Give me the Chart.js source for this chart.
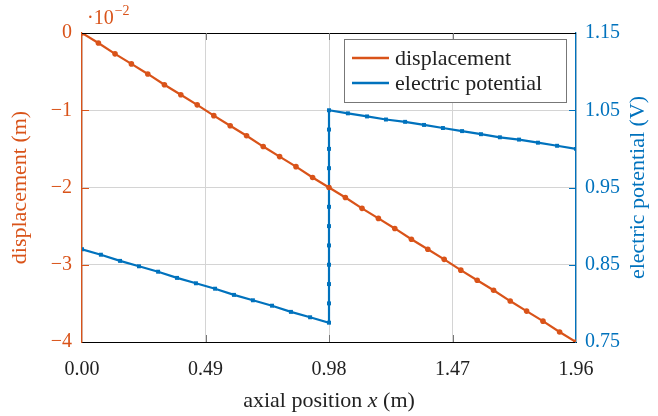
<!DOCTYPE html>
<html>
<head>
<meta charset="utf-8">
<script src="https://cdn.jsdelivr.net/npm/chart.js@4.4.0/dist/chart.umd.min.js"></script>
<style>
  html, body { margin: 0; padding: 0; background: #fff; }
  canvas { display: block; }
</style>
</head>
<body>
<canvas id="myChart" width="658" height="416"></canvas>
<script>
// displacement, in units of 1e-2 m
const dispX = [0, 0.065, 0.131, 0.196, 0.261, 0.327, 0.392, 0.457, 0.523, 0.588, 0.653, 0.719, 0.784, 0.849, 0.915, 0.98,
    1.045, 1.111, 1.176, 1.241, 1.307, 1.372, 1.437, 1.503, 1.568, 1.633, 1.699, 1.764, 1.829, 1.895, 1.96];
const dispY = [0, -0.13, -0.27, -0.40, -0.53, -0.67, -0.80, -0.93, -1.07, -1.20, -1.33, -1.47, -1.60, -1.73, -1.87, -2.00,
    -2.13, -2.27, -2.40, -2.53, -2.67, -2.80, -2.93, -3.07, -3.20, -3.33, -3.47, -3.60, -3.73, -3.87, -4.00];

// electric potential (V)
const potX = [0, 0.075, 0.151, 0.226, 0.302, 0.377, 0.452, 0.528, 0.603, 0.678, 0.754, 0.829, 0.905, 0.98,
    0.98, 0.98, 0.98, 0.98, 0.98, 0.98, 0.98, 0.98, 0.98, 0.98, 0.98,
    1.055, 1.131, 1.206, 1.282, 1.357, 1.432, 1.508, 1.583, 1.658, 1.734, 1.809, 1.885, 1.96];
const potY = [0.870, 0.863, 0.855, 0.848, 0.841, 0.833, 0.826, 0.819, 0.811, 0.804, 0.797, 0.789, 0.782, 0.775,
    0.800, 0.825, 0.850, 0.875, 0.900, 0.925, 0.950, 0.975, 1.000, 1.025, 1.050,
    1.046, 1.042, 1.038, 1.035, 1.031, 1.027, 1.023, 1.019, 1.015, 1.012, 1.008, 1.004, 1.000];

const xTicks = [0, 0.49, 0.98, 1.47, 1.96];
const yTicks = [0, -1, -2, -3, -4];
const y2Ticks = [0.75, 0.85, 0.95, 1.05, 1.15];

const ORANGE = '#D95319';
const BLUE = '#0072BD';
const FONT = '"Liberation Serif", "DejaVu Serif", serif';

const dispData = dispX.map((x, i) => ({ x: x, y: dispY[i] }));
const potData = potX.map((x, i) => ({ x: x, y: potY[i] }));

const overlay = {
    id: 'overlay',
    afterDraw(chart) {
        const ctx = chart.ctx;
        const a = chart.chartArea;
        const sx = chart.scales.x, sy = chart.scales.y, sy2 = chart.scales.y2;
        ctx.save();

        // top frame
        ctx.strokeStyle = '#000';
        ctx.lineWidth = 1;
        ctx.beginPath();
        ctx.moveTo(a.left, a.top + 0.5);
        ctx.lineTo(a.right, a.top + 0.5);
        ctx.stroke();

        // small inward tick marks
        ctx.lineWidth = 1;
        ctx.strokeStyle = ORANGE;
        yTicks.slice(1, -1).forEach(v => {
            const p = Math.round(sy.getPixelForValue(v)) + 0.5;
            ctx.beginPath(); ctx.moveTo(a.left, p); ctx.lineTo(a.left + 7, p); ctx.stroke();
        });
        ctx.strokeStyle = BLUE;
        y2Ticks.slice(1, -1).forEach(v => {
            const p = Math.round(sy2.getPixelForValue(v)) + 0.5;
            ctx.beginPath(); ctx.moveTo(a.right, p); ctx.lineTo(a.right - 7, p); ctx.stroke();
        });
        ctx.strokeStyle = '#777';
        xTicks.slice(1, -1).forEach(v => {
            const p = Math.round(sx.getPixelForValue(v)) + 0.5;
            ctx.beginPath(); ctx.moveTo(p, a.bottom); ctx.lineTo(p, a.bottom - 7); ctx.stroke();
            ctx.beginPath(); ctx.moveTo(p, a.top); ctx.lineTo(p, a.top + 7); ctx.stroke();
        });

        // exponent label
        ctx.fillStyle = ORANGE;
        ctx.textBaseline = 'alphabetic';
        ctx.textAlign = 'left';
        ctx.font = '20px ' + FONT;
        ctx.fillText('·10', 87, 24);
        const w = ctx.measureText('·10').width;
        ctx.font = '14px ' + FONT;
        ctx.fillText('−2', 87 + w + 1, 15);

        // axis titles
        ctx.font = '22px ' + FONT;
        ctx.textAlign = 'center';
        ctx.textBaseline = 'middle';
        ctx.fillStyle = ORANGE;
        ctx.save();
        ctx.translate(20, (a.top + a.bottom) / 2);
        ctx.rotate(-Math.PI / 2);
        ctx.fillText('displacement (m)', 0, 0);
        ctx.restore();

        ctx.fillStyle = BLUE;
        ctx.save();
        ctx.translate(638, (a.top + a.bottom) / 2);
        ctx.rotate(-Math.PI / 2);
        ctx.fillText('electric potential (V)', 0, 0);
        ctx.restore();

        // x title with italic x
        ctx.fillStyle = '#222';
        const p1 = 'axial position ', p2 = 'x', p3 = ' (m)';
        ctx.font = '22px ' + FONT;
        const w1 = ctx.measureText(p1).width, w3 = ctx.measureText(p3).width;
        ctx.font = 'italic 22px ' + FONT;
        const w2 = ctx.measureText(p2).width;
        let tx = (a.left + a.right) / 2 - (w1 + w2 + w3) / 2;
        ctx.textAlign = 'left';
        ctx.font = '22px ' + FONT;
        ctx.fillText(p1, tx, 401);
        ctx.font = 'italic 22px ' + FONT;
        ctx.fillText(p2, tx + w1, 401);
        ctx.font = '22px ' + FONT;
        ctx.fillText(p3, tx + w1 + w2, 401);

        // legend
        const lx = 344.5, ly = 39.5, lw = 222, lh = 63;
        ctx.fillStyle = '#fff';
        ctx.fillRect(lx, ly, lw, lh);
        ctx.strokeStyle = '#777';
        ctx.lineWidth = 1;
        ctx.strokeRect(lx, ly, lw, lh);
        const items = [['displacement', ORANGE, 58], ['electric potential', BLUE, 83]];
        items.forEach(it => {
            ctx.strokeStyle = it[1];
            ctx.lineWidth = 2.4;
            ctx.beginPath(); ctx.moveTo(352, it[2]); ctx.lineTo(389, it[2]); ctx.stroke();
            ctx.fillStyle = '#222';
            ctx.font = '22px ' + FONT;
            ctx.textBaseline = 'middle';
            ctx.fillText(it[0], 395, it[2] + 1);
        });

        ctx.restore();
    }
};

const ctx = document.getElementById('myChart').getContext('2d');
const myChart = new Chart(ctx, {
    type: 'line',
    data: {
        datasets: [
            {
                label: 'displacement',
                data: dispData,
                borderColor: ORANGE,
                backgroundColor: ORANGE,
                borderWidth: 2.2,
                pointRadius: 2.8,
                pointBorderWidth: 0,
                pointHoverRadius: 0,
                yAxisID: 'y',
                tension: 0,
            },
            {
                label: 'electric potential',
                data: potData,
                borderColor: BLUE,
                backgroundColor: BLUE,
                borderWidth: 2.2,
                pointStyle: 'rect',
                pointRadius: 2.8,
                pointBorderWidth: 0,
                pointHoverRadius: 0,
                yAxisID: 'y2',
                tension: 0,
            },
        ]
    },
    options: {
        responsive: false,
        animation: false,
        events: [],
        layout: { padding: { top: 33, left: 0, right: 0, bottom: 0 } },
        plugins: {
            legend: { display: false },
            tooltip: { enabled: false },
        },
        scales: {
            x: {
                type: 'linear',
                min: 0,
                max: 1.96,
                afterBuildTicks: s => { s.ticks = xTicks.map(v => ({ value: v })); },
                afterFit: s => { s.height = 74; },
                ticks: {
                    color: '#222',
                    font: { family: FONT, size: 20 },
                    padding: 16,
                    maxRotation: 0,
                    callback: v => v.toFixed(2),
                },
                grid: { color: '#d4d4d4', drawTicks: false },
                border: { color: '#000', width: 1 },
            },
            y: {
                position: 'left',
                min: -4,
                max: 0,
                afterBuildTicks: s => { s.ticks = yTicks.map(v => ({ value: v })); },
                afterFit: s => { s.width = 82; },
                ticks: {
                    color: ORANGE,
                    font: { family: FONT, size: 20 },
                    padding: 10,
                    callback: v => (v < 0 ? '−' + Math.abs(v) : String(v)),
                },
                grid: { color: '#d4d4d4', drawTicks: false },
                border: { color: ORANGE, width: 1.3 },
            },
            y2: {
                position: 'right',
                min: 0.75,
                max: 1.15,
                afterBuildTicks: s => { s.ticks = y2Ticks.map(v => ({ value: v })); },
                afterFit: s => { s.width = 82; },
                ticks: {
                    color: BLUE,
                    font: { family: FONT, size: 20 },
                    padding: 9,
                    callback: v => v.toFixed(2),
                },
                grid: { drawOnChartArea: false, drawTicks: false },
                border: { color: BLUE, width: 1.3 },
            },
        }
    },
    plugins: [overlay]
});
</script>
</body>
</html>
